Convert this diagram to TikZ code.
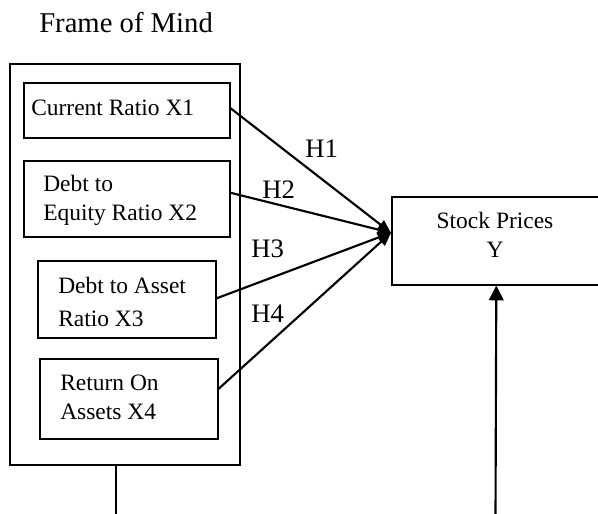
\documentclass[tikz,border=0pt]{standalone}
\usepackage{fontspec}
\setmainfont{Liberation Serif}
\usetikzlibrary{arrows.meta,calc}
\begin{document}
\begin{tikzpicture}[x=0.75pt,y=-0.75pt,
  box/.style={draw,line width=1.2pt,rectangle,inner sep=0pt,anchor=north west},
  txt/.style={anchor=base west,inner sep=0pt,font=\fontsize{17.6}{21.5}\selectfont,align=left},
  hlab/.style={anchor=base west,inner sep=0pt,font=\fontsize{20}{24}\selectfont},
  conn/.style={line width=1.6pt,-{Triangle[length=10pt,width=8pt]}},
  upconn/.style={line width=1.6pt,-{Triangle[length=11pt,width=11pt]}}
]
\useasboundingbox (0,0) rectangle (598,513);
% title
\node[anchor=base west,inner sep=0pt,font=\fontsize{21.5}{26}\selectfont] (title) at (39,33) {Frame of Mind};
% frame
\node[box,minimum width=172.5pt,minimum height=300.75pt] (frame) at (9,63) {};
% boxes
\node[box,minimum width=154.5pt,minimum height=41.25pt] (b1) at (23,82) {};
\node[box,minimum width=154.5pt,minimum height=57pt] (b2) at (23,160) {};
\node[box,minimum width=133.5pt,minimum height=57.75pt] (b3) at (37,260) {};
\node[box,minimum width=133.5pt,minimum height=60pt] (b4) at (39,358) {};
% texts (anchor at baseline of last line)
\node[txt] (t1) at (31,116) {Current Ratio X1};
\node[txt] (t2) at (43,220) {Debt to\\Equity Ratio X2};
\node[txt,font=\fontsize{17.6}{24.5}\selectfont] (t3) at (58,326) {Debt to Asset\\Ratio X3};
\node[txt] (t4) at (60,419) {Return On\\Assets X4};
% stock prices
\node[box,minimum width=156.75pt,minimum height=66pt] (sp) at (391,196) {};
\node[inner sep=0pt,font=\fontsize{17.6}{21.5}\selectfont,align=center,anchor=base] (spt) at (495,257) {Stock Prices\\Y};
% connectors
\draw[conn] ($(b1.east)+(0,-2)$) -- ($(sp.west)+(0,-8)$);
\draw[conn] ($(b2.east)+(0,-6)$) -- ($(sp.west)+(0,-8)$);
\draw[conn] ($(b3.east)+(0,-1)$) -- ($(sp.west)+(0,-8)$);
\draw[conn] ($(b4.east)+(0,-10)$) -- ($(sp.west)+(0,-8)$);
% labels
\node[hlab] (h1) at (305,157) {H1};
\node[hlab] (h2) at (262,198) {H2};
\node[hlab] (h3) at (251,257) {H3};
\node[hlab] (h4) at (251,322) {H4};
% bottom lines
\coordinate (fb) at (116,516);
\coordinate (sb) at (495.5,516);
\draw[line width=1.2pt] (frame.south -| fb) -- (fb);
\draw[upconn] (sb) -- (sp.south);
\end{tikzpicture}
\end{document}
